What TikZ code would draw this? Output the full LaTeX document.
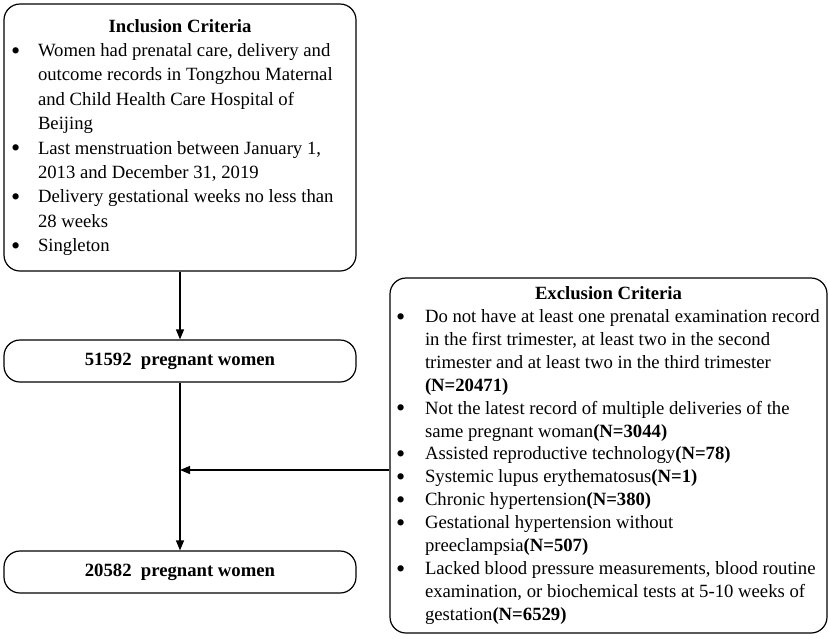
\documentclass[tikz,border=0pt]{standalone}
\usepackage{fontspec}
\setmainfont{Liberation Serif}
\usetikzlibrary{arrows.meta}

\newlength{\critind}
\setlength{\critind}{30pt}
\newcommand{\critem}[1]{\par\noindent\hangindent=\critind\hangafter=1%
  \makebox[\critind][l]{\hspace{4pt}\raisebox{-2.6pt}[0pt][0pt]{\scalebox{1.4}{\textbullet}}}#1}

\tikzset{
  critbox/.style={draw, line width=1.2pt, rounded corners=16pt, inner sep=0pt},
  popbox/.style={draw, line width=1.2pt, rounded corners=16pt, minimum width=352pt,
    minimum height=42pt, font=\bfseries\fontsize{18.7}{22}\selectfont},
  arr/.style={-{Triangle[length=10pt,width=8pt]}, line width=1.2pt}
}

\begin{document}
\begin{tikzpicture}[x=1pt, y=1pt]
    \useasboundingbox (0,0) rectangle (829,-638);

    % inclusion criteria
    \node [critbox, minimum width=352pt, minimum height=267pt] (incl) at (180,-137.5)
    {\begin{minipage}{346pt}\fontsize{18.7}{24.4}\selectfont\raggedright\setlength{\critind}{31pt}
        {\centering\textbf{Inclusion Criteria}\par}
        \critem{Women had prenatal care, delivery and\newline outcome records in Tongzhou Maternal\newline and Child Health Care Hospital of\newline Beijing}
        \critem{Last menstruation between January 1,\newline 2013 and December 31, 2019}
        \critem{Delivery gestational weeks no less than\newline 28 weeks}
        \critem{Singleton}
    \end{minipage}};

    \node [popbox] (pop1) at (180,-361) {51592\ \ pregnant women};
    \node [popbox] (pop2) at (180,-572) {20582\ \ pregnant women};

    % exclusion criteria
    \node [critbox, minimum width=437pt, minimum height=355pt] (excl) at (608.5,-455.5)
    {\begin{minipage}{433pt}\fontsize{18.7}{22.9}\selectfont\raggedright\setlength{\critind}{33pt}
        {\centering\textbf{Exclusion Criteria}\par}
        \critem{Do not have at least one prenatal examination record\newline in the first trimester, at least two in the second\newline trimester and at least two in the third trimester\newline \textbf{(N=20471)}}
        \critem{Not the latest record of multiple deliveries of the\newline same pregnant woman\textbf{(N=3044)}}
        \critem{Assisted reproductive technology\textbf{(N=78)}}
        \critem{Systemic lupus erythematosus\textbf{(N=1)}}
        \critem{Chronic hypertension\textbf{(N=380)}}
        \critem{Gestational hypertension without\newline preeclampsia\textbf{(N=507)}}
        \critem{Lacked blood pressure measurements, blood routine\newline examination, or biochemical tests at 5-10 weeks of\newline gestation\textbf{(N=6529)}}
    \end{minipage}};

    \coordinate (join) at (180,-470);

    \draw [arr] (incl) -- (pop1);
    \draw [arr] (pop1) -- (pop2);
    \draw [arr] (excl.west |- join) -- (join);
\end{tikzpicture}
\end{document}
